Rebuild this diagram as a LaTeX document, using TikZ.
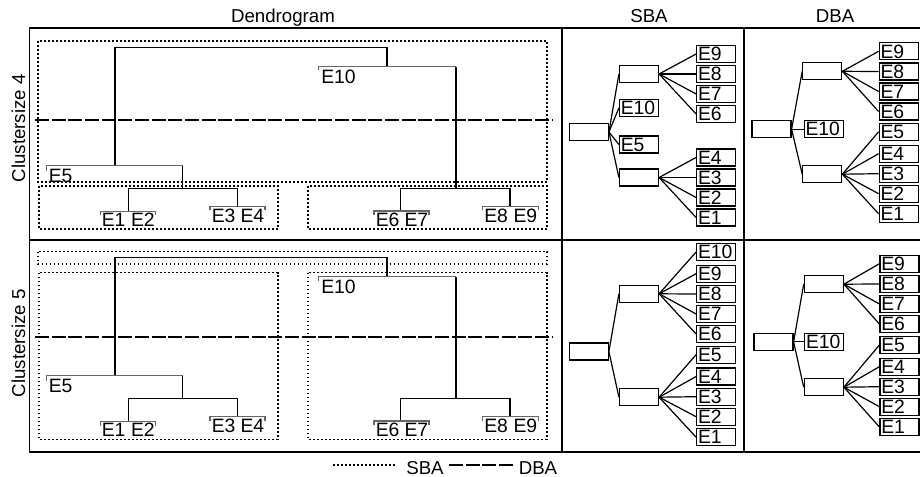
\documentclass[tikz,border=0pt]{standalone}
\usepackage{fontspec}
\setmainfont{Liberation Sans}
\begin{document}
\begin{tikzpicture}[x=0.75pt,y=-0.75pt,
  txt/.style={font=\fontsize{14}{16}\selectfont, inner sep=0pt},
  lbl/.style={font=\fontsize{14.5}{16}\selectfont, inner sep=0pt},
  frame/.style={line width=1.3pt},
  link/.style={line width=1.1pt},
  leafbar/.style={line width=1pt, black!60},
  sbaline/.style={line width=0.8pt, dash pattern=on 1.3pt off 1.7pt},
  dbaline/.style={line width=1.4pt, dash pattern=on 10.5pt off 2pt},
  ebox/.style={draw, line width=0.9pt, font=\fontsize{14.5}{16}\selectfont,
    minimum width=29.25pt, minimum height=12.75pt, inner xsep=1pt, inner ysep=1.3pt,
    text width=27.25pt, align=left, text height=10.1pt, text depth=0pt},
  conn/.style={line width=0.9pt}
]
\useasboundingbox (0,0) rectangle (920,477);

% frame
\draw[frame] (921,28) -- (29.5,28) -- (29.5,452) -- (921,452);
\draw[frame] (29.5,240) -- (921,240);
\draw[frame] (562,28) -- (562,452);
\draw[frame] (744,28) -- (744,452);

% titles
\node[txt, anchor=base] (tden) at (283,23) {Dendrogram};
\node[txt, anchor=base] (tsba) at (649,23) {SBA};
\node[txt, anchor=base] (tdba) at (835,23) {DBA};
\node[txt, rotate=90, anchor=base] (r4) at (25,128.3) {Clustersize 4};
\node[txt, rotate=90, anchor=base] (r5) at (25,343.3) {Clustersize 5};

% dendrograms
\foreach \dy/\s in {0/a,210/b}{
\begin{scope}[shift={(0,\dy)}]
  \draw[link] (115,165.7) -- (115,47.7) -- (387,47.7) -- (387,66.7);
  \draw[leafbar] (46.7,171) -- (46.7,165.7) -- (182.7,165.7);
  \draw[link] (182.7,165.7) -- (182.7,188.3);
  \draw[link] (128.3,211.7) -- (128.3,188.3) -- (237.7,188.3) -- (237.7,206.7);
  \draw[leafbar] (100.7,215.5) -- (100.7,211.7) -- (155.3,211.7) -- (155.3,215.5);
  \draw[leafbar] (210,210.5) -- (210,206.7) -- (265,206.7) -- (265,210.5);
  \draw[leafbar] (318.3,70.5) -- (318.3,66.7) -- (456,66.7);
  \draw[link] (456,66.7) -- (456,188.3);
  \draw[link] (400.7,211) -- (400.7,188.3) -- (510,188.3) -- (510,206.7);
  \draw[leafbar] (374,214.8) -- (374,211) -- (429,211) -- (429,214.8);
  \draw[leafbar] (482.3,210.5) -- (482.3,206.7) -- (538.3,206.7) -- (538.3,210.5);
  \node[lbl, anchor=north west] (de5\s) at (48.5,168.5) {E5};
  \node[lbl, anchor=north west] (de1\s) at (101.5,213) {E1};
  \node[lbl, anchor=north east] (de2\s) at (155,213) {E2};
  \node[lbl, anchor=north west] (de3\s) at (211.5,208.5) {E3};
  \node[lbl, anchor=north east] (de4\s) at (264.5,208.5) {E4};
  \node[lbl, anchor=north west] (de6\s) at (375.5,212.8) {E6};
  \node[lbl, anchor=north east] (de7\s) at (428.5,212.8) {E7};
  \node[lbl, anchor=north west] (de8\s) at (484,208.5) {E8};
  \node[lbl, anchor=north east] (de9\s) at (537.5,208.5) {E9};
  \node[lbl, anchor=north west] (de10\s) at (321,69.5) {E10};
\end{scope}
}

% SBA / DBA cluster boxes in dendrograms
\draw[sbaline] (38,41) rectangle (547,182);
\draw[sbaline] (39,186) rectangle (278,229);
\draw[sbaline] (308,186) rectangle (547,229);
\draw[sbaline] (38,251.7) rectangle (547,264);
\draw[sbaline] (39,272.7) rectangle (278,439.3);
\draw[sbaline] (308,272.7) rectangle (547,439.3);
\draw[dbaline] (35,119.7) -- (553,119.7);
\draw[dbaline] (35,336.7) -- (553,336.7);

% SBA top
\node[ebox] (s4r) at (588.8,132) {};
\node[ebox] (s4u) at (639,74) {};
\node[ebox] (s4l) at (639,177.5) {};
\node[ebox] (s4e10) at (639,108) {E10};
\node[ebox] (s4e5) at (639,144.5) {E5};
\foreach \n/\yy in {9/54,8/74,7/94,6/114,4/157.5,3/177.5,2/197.5,1/217.5}
  \node[ebox] (s4x\n) at (716.2,\yy) {E\n};
\foreach \c in {s4u,s4e10,s4e5,s4l} \draw[conn] (s4r.east) -- (\c.west);
\foreach \n in {9,8,7,6} \draw[conn] (s4u.east) -- (s4x\n.west);
\foreach \n in {4,3,2,1} \draw[conn] (s4l.east) -- (s4x\n.west);

% DBA top
\node[ebox] (d4r) at (771.5,129.2) {};
\node[ebox] (d4e10) at (823.7,129.2) {E10};
\node[ebox] (d4u) at (822.3,71.3) {};
\node[ebox] (d4l) at (822.3,174.2) {};
\foreach \n/\yy in {9/51.3,8/71.5,7/91.5,6/111.5,5/131.8,4/153.7,3/173.7,2/193.7,1/213.8}
  \node[ebox] (d4x\n) at (898.7,\yy) {E\n};
\foreach \c in {d4u,d4e10,d4l} \draw[conn] (d4r.east) -- (\c.west);
\foreach \n in {9,8,7,6} \draw[conn] (d4u.east) -- (d4x\n.west);
\foreach \n in {5,4,3,2,1} \draw[conn] (d4l.east) -- (d4x\n.west);

% SBA bottom
\node[ebox] (s5r) at (588.8,351.5) {};
\node[ebox] (s5u) at (639,293.8) {};
\node[ebox] (s5l) at (639,397.2) {};
\foreach \n/\yy in {10/252,9/273.7,8/294,7/314,6/334,5/354.7,4/376.5,3/396.7,2/416.7,1/437.2}
  \node[ebox] (s5x\n) at (716.2,\yy) {E\n};
\foreach \c in {s5u,s5l} \draw[conn] (s5r.east) -- (\c.west);
\foreach \n in {10,9,8,7,6} \draw[conn] (s5u.east) -- (s5x\n.west);
\foreach \n in {5,4,3,2,1} \draw[conn] (s5l.east) -- (s5x\n.west);

% DBA bottom
\node[ebox] (d5r) at (773.5,341.8) {};
\node[ebox] (d5e10) at (824.2,341.8) {E10};
\node[ebox] (d5u) at (823.8,284.2) {};
\node[ebox] (d5l) at (823.8,387.2) {};
\foreach \n/\yy in {9/263.7,8/284,7/304,6/324,5/345,4/366.7,3/386.7,2/406.7,1/427}
  \node[ebox] (d5x\n) at (899.5,\yy) {E\n};
\foreach \c in {d5u,d5e10,d5l} \draw[conn] (d5r.east) -- (\c.west);
\foreach \n in {9,8,7,6} \draw[conn] (d5u.east) -- (d5x\n.west);
\foreach \n in {5,4,3,2,1} \draw[conn] (d5l.east) -- (d5x\n.west);

% legend
\coordinate (l1a) at (333,465);
\coordinate (l1b) at (395,465);
\coordinate (l2a) at (449,465);
\coordinate (l2b) at (513,465);
\draw[sbaline] (l1a) -- (l1b);
\draw[dbaline] (l2a) -- (l2b);
\node[txt, anchor=base] (lsba) at (425,474.5) {SBA};
\node[txt, anchor=base] (ldba) at (538,474.5) {DBA};
\end{tikzpicture}
\end{document}
